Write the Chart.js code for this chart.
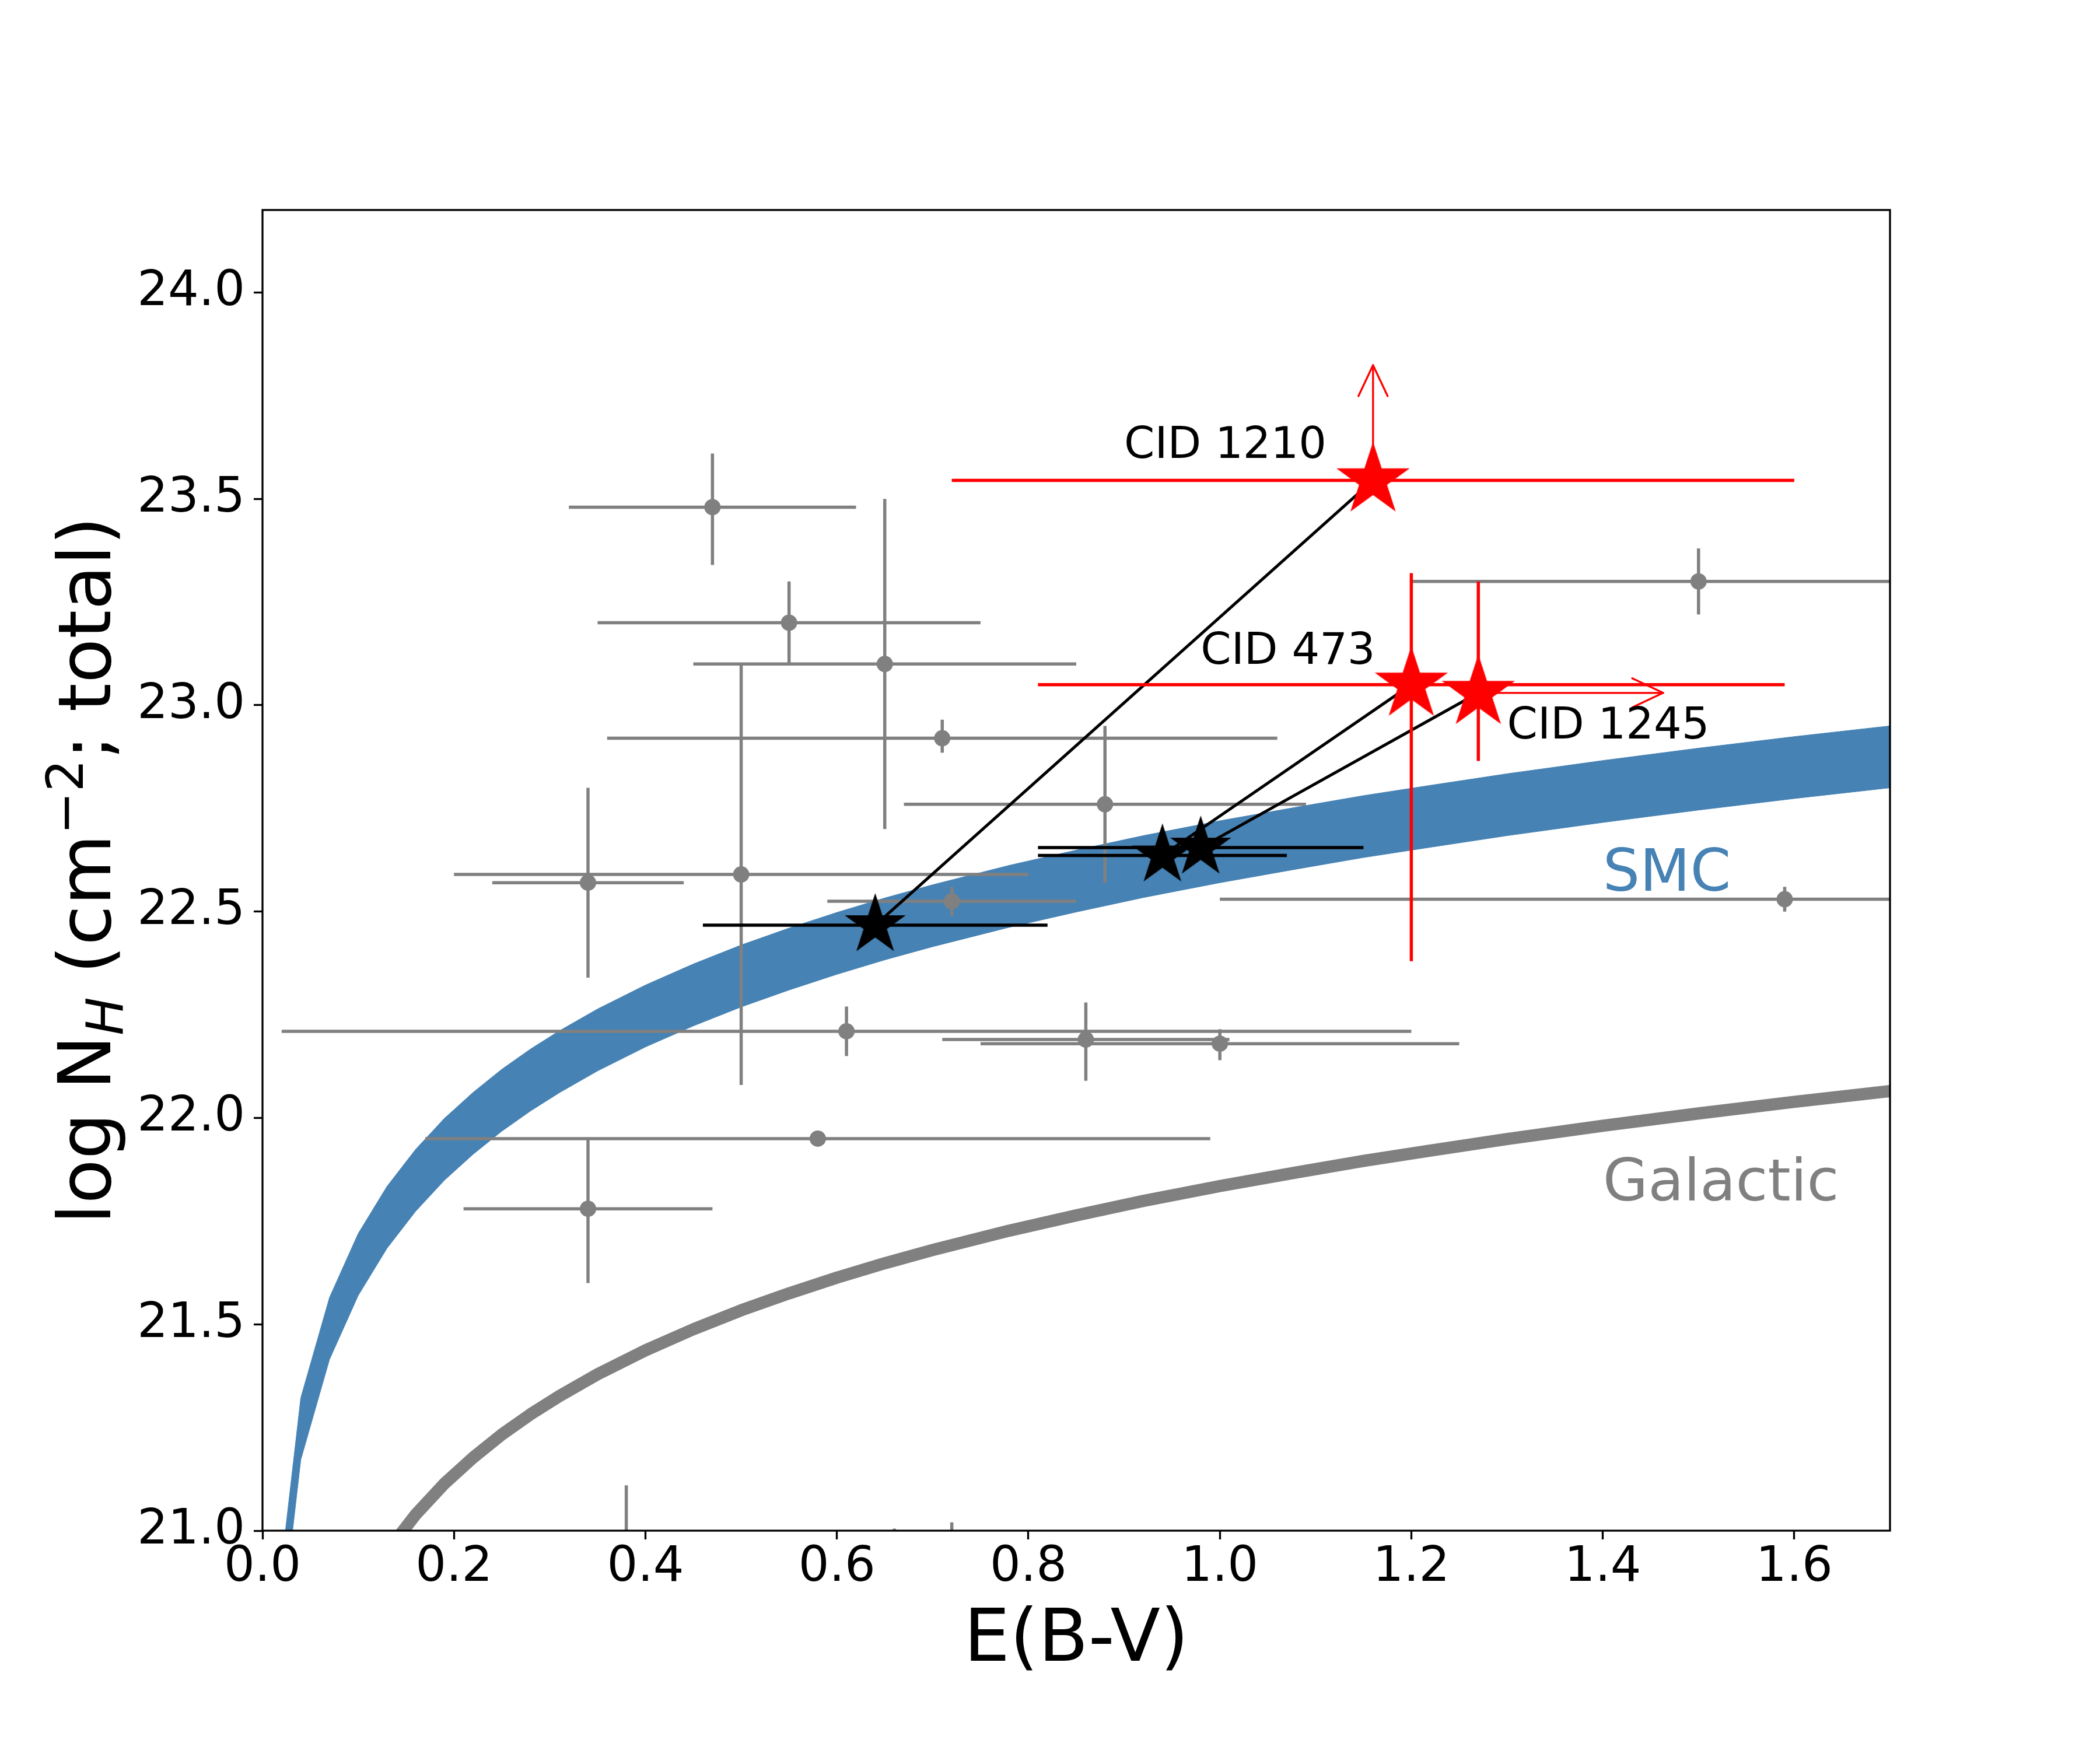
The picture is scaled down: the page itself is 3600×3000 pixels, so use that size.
<!DOCTYPE html>
<html>
<head>
<meta charset="utf-8">
<script src="https://cdn.jsdelivr.net/npm/chart.js@4/dist/chart.umd.min.js"></script>
<style>
html,body{margin:0;padding:0;background:#fff;}
canvas{display:block;}
</style>
</head>
<body>
<canvas id="c" width="3600" height="3000" style="width:3600px;height:3000px"></canvas>
<script>
// ---------------- data ----------------
const xRange = [0.0, 1.7];
const yRange = [21.0, 24.2];
const xStep = 0.2;
const yStep = 0.5;

// relation curves sampled in E(B-V)
const eGrid    = [0.01, 0.04, 0.07, 0.10, 0.13, 0.16, 0.19, 0.22, 0.25, 0.28, 0.31, 0.35, 0.40, 0.45, 0.50, 0.55, 0.60, 0.65, 0.70, 0.78, 0.85, 0.92, 1.00, 1.08, 1.15, 1.22, 1.30, 1.40, 1.50, 1.60, 1.70];
const smcUpper = [20.720, 21.322, 21.565, 21.720, 21.834, 21.924, 21.999, 22.062, 22.118, 22.167, 22.211, 22.264, 22.322, 22.373, 22.419, 22.460, 22.498, 22.533, 22.565, 22.612, 22.649, 22.684, 22.720, 22.753, 22.781, 22.806, 22.834, 22.866, 22.896, 22.924, 22.950];
const smcLower = [20.570, 21.172, 21.415, 21.570, 21.684, 21.774, 21.849, 21.912, 21.968, 22.017, 22.061, 22.114, 22.172, 22.223, 22.269, 22.310, 22.348, 22.383, 22.415, 22.462, 22.499, 22.534, 22.570, 22.603, 22.631, 22.656, 22.684, 22.716, 22.746, 22.774, 22.800];
const galactic = [19.835, 20.437, 20.680, 20.835, 20.949, 21.039, 21.114, 21.177, 21.233, 21.282, 21.326, 21.379, 21.437, 21.488, 21.534, 21.575, 21.613, 21.648, 21.680, 21.727, 21.764, 21.799, 21.835, 21.868, 21.896, 21.921, 21.949, 21.981, 22.011, 22.039, 22.065];

// grey comparison sample
const greyX   = [0.47, 0.55, 0.65, 0.71, 0.88, 0.34, 0.50, 0.72, 0.61, 0.86, 1.00, 0.58, 0.34, 1.50, 1.59, 0.38, 0.66, 0.72];
const greyY   = [23.48, 23.20, 23.10, 22.92, 22.76, 22.57, 22.59, 22.525, 22.21, 22.19, 22.18, 21.95, 21.78, 23.30, 22.53, 20.80, 20.80, 20.80];
const greyXLo = [0.32, 0.35, 0.45, 0.36, 0.67, 0.24, 0.20, 0.59, 0.02, 0.71, 0.75, 0.17, 0.21, 1.20, 1.00, 0.38, 0.66, 0.72];
const greyXHi = [0.62, 0.75, 0.85, 1.06, 1.09, 0.44, 0.80, 0.85, 1.20, 1.01, 1.25, 0.99, 0.47, 1.80, 2.18, 0.38, 0.66, 0.72];
const greyYLo = [23.34, 23.10, 22.70, 22.885, 22.57, 22.34, 22.08, 22.49, 22.15, 22.09, 22.14, 21.95, 21.60, 23.22, 22.50, 20.50, 20.60, 20.60];
const greyYHi = [23.61, 23.30, 23.50, 22.965, 22.95, 22.80, 23.10, 22.56, 22.27, 22.28, 22.215, 21.95, 21.95, 23.38, 22.56, 21.11, 21.005, 21.02];

// black stars
const blackX   = [0.64, 0.94, 0.98];
const blackY   = [22.467, 22.636, 22.655];
const blackXLo = [0.46, 0.81, 0.81];
const blackXHi = [0.82, 1.07, 1.15];

// red stars (CID 1210, CID 473, CID 1245)
const redX   = [1.16, 1.20, 1.27];
const redY   = [23.545, 23.05, 23.03];
const redXLo = [0.72, 0.81, null];
const redXHi = [1.60, 1.59, null];
const redYLo = [null, 22.38, 22.865];
const redYHi = [null, 23.32, 23.30];
const redLimitX = [1.16, null, 1.463];   // arrow tips (limits)
const redLimitY = [23.824, null, 23.03];

// links black -> red
const linkFrom = [0, 1, 2];
const linkTo   = [0, 1, 2];

// text labels
const cidLabels = ['CID 1210', 'CID 473', 'CID 1245'];
const cidLabelX = [0.90, 0.98, 1.30];
const cidLabelY = [23.60, 23.10, 22.92];
const curveLabels = ['SMC', 'Galactic'];
const curveLabelX = [1.40, 1.40];
const curveLabelY = [22.55, 21.80];

// ---------------- styles ----------------
const STEEL = '#4682b4';
const GREY = '#808080';
const RED = '#ff0000';
const FONT = '"DejaVu Sans"';
const curveLabelColors = [STEEL, GREY];

function starImage(R, color) {
  const s = 2 * Math.ceil(R + 3);
  const c = document.createElement('canvas');
  c.width = s; c.height = s;
  const g = c.getContext('2d');
  g.translate(s / 2, s / 2);
  g.beginPath();
  for (let i = 0; i < 10; i++) {
    const r = (i % 2 === 0) ? R : R * 0.381966;
    const a = -Math.PI / 2 + i * Math.PI / 5;
    if (i === 0) g.moveTo(r * Math.cos(a), r * Math.sin(a));
    else g.lineTo(r * Math.cos(a), r * Math.sin(a));
  }
  g.closePath();
  g.fillStyle = color;
  g.fill();
  return c;
}

const pts = (xs, ys) => xs.map((v, i) => ({x: v, y: ys[i]}));

// ---------------- plugins ----------------
const errorBarPlugin = {
  id: 'errorBars',
  beforeDatasetDraw(chart, args) {
    const ds = chart.data.datasets[args.index];
    const eb = ds.errorBars;
    if (!eb) return;
    const {ctx, chartArea: a, scales: {x, y}} = chart;
    ctx.save();
    ctx.beginPath();
    ctx.rect(a.left, a.top, a.right - a.left, a.bottom - a.top);
    ctx.clip();
    ctx.strokeStyle = eb.color;
    ctx.lineWidth = eb.width;
    ctx.lineCap = 'butt';
    ds.data.forEach((p, i) => {
      const py = y.getPixelForValue(p.y);
      const px = x.getPixelForValue(p.x);
      if (eb.xLo && eb.xLo[i] != null) {
        ctx.beginPath();
        ctx.moveTo(x.getPixelForValue(eb.xLo[i]), py);
        ctx.lineTo(x.getPixelForValue(eb.xHi[i]), py);
        ctx.stroke();
      }
      if (eb.yLo && eb.yLo[i] != null) {
        ctx.beginPath();
        ctx.moveTo(px, y.getPixelForValue(eb.yLo[i]));
        ctx.lineTo(px, y.getPixelForValue(eb.yHi[i]));
        ctx.stroke();
      }
      if (eb.tipX && eb.tipX[i] != null) {
        const tx = x.getPixelForValue(eb.tipX[i]);
        const ty = y.getPixelForValue(eb.tipY[i]);
        const dx = tx - px, dy = ty - py;
        const L = Math.hypot(dx, dy);
        const ux = dx / L, uy = dy / L;
        const nx = -uy, ny = ux;
        ctx.lineWidth = eb.arrowWidth;
        ctx.lineCap = 'round';
        ctx.lineJoin = 'round';
        ctx.beginPath();
        ctx.moveTo(px, py);
        ctx.lineTo(tx, ty);
        ctx.stroke();
        ctx.beginPath();
        ctx.moveTo(tx - 53 * ux + 25 * nx, ty - 53 * uy + 25 * ny);
        ctx.lineTo(tx, ty);
        ctx.lineTo(tx - 53 * ux - 25 * nx, ty - 53 * uy - 25 * ny);
        ctx.stroke();
        ctx.lineWidth = eb.width;
        ctx.lineCap = 'butt';
      }
    });
    ctx.restore();
  }
};

const textPlugin = {
  id: 'texts',
  afterDatasetsDraw(chart) {
    const {ctx, scales: {x, y}} = chart;
    ctx.save();
    ctx.textBaseline = 'alphabetic';
    ctx.textAlign = 'left';
    ctx.fillStyle = '#000';
    ctx.font = '75px ' + FONT;
    cidLabels.forEach((t, i) => ctx.fillText(t, x.getPixelForValue(cidLabelX[i]), y.getPixelForValue(cidLabelY[i])));
    ctx.font = '100px ' + FONT;
    curveLabels.forEach((t, i) => {
      ctx.fillStyle = curveLabelColors[i];
      ctx.fillText(t, x.getPixelForValue(curveLabelX[i]), y.getPixelForValue(curveLabelY[i]));
    });
    ctx.restore();
  },
  afterDraw(chart) {
    const {ctx, chartArea: a} = chart;
    ctx.save();
    // frame
    ctx.strokeStyle = '#000';
    ctx.lineWidth = 3.3;
    ctx.strokeRect(a.left, a.top, a.right - a.left, a.bottom - a.top);
    // x title
    ctx.fillStyle = '#000';
    ctx.font = '125px ' + FONT;
    ctx.textAlign = 'center';
    ctx.textBaseline = 'alphabetic';
    ctx.fillText('E(B-V)', (a.left + a.right) / 2, a.bottom + 223);
    // y title with sub/superscripts
    const parts = [
      {t: 'log N', f: '125px ' + FONT, dy: 0},
      {t: 'H', f: 'italic 87px ' + FONT, dy: 21},
      {t: ' (cm', f: '125px ' + FONT, dy: 0},
      {t: '\u22122', f: '87px ' + FONT, dy: -47},
      {t: '; total)', f: '125px ' + FONT, dy: 0}
    ];
    ctx.textAlign = 'left';
    let total = 0;
    parts.forEach(p => { ctx.font = p.f; p.w = ctx.measureText(p.t).width; total += p.w; });
    ctx.translate(a.left - 261, (a.top + a.bottom) / 2);
    ctx.rotate(-Math.PI / 2);
    let cx = -total / 2;
    parts.forEach(p => { ctx.font = p.f; ctx.fillText(p.t, cx, p.dy); cx += p.w; });
    ctx.restore();
  }
};

// ---------------- chart ----------------
Chart.defaults.font.family = FONT;

const datasets = [
  { // SMC band upper edge (filled to lower edge)
    type: 'line', data: pts(eGrid, smcUpper), borderColor: STEEL, borderWidth: 1,
    backgroundColor: STEEL, fill: '+1', pointRadius: 0, tension: 0, order: 10, clip: 0
  },
  { // SMC band lower edge
    type: 'line', data: pts(eGrid, smcLower), borderColor: STEEL, borderWidth: 1,
    fill: false, pointRadius: 0, tension: 0, order: 9, clip: 0
  },
  { // Galactic relation
    type: 'line', data: pts(eGrid, galactic), borderColor: GREY, borderWidth: 21,
    borderJoinStyle: 'round', fill: false, pointRadius: 0, tension: 0, order: 8, clip: 0
  },
  { // grey sample
    type: 'scatter', data: pts(greyX, greyY), pointStyle: 'circle', pointRadius: 14,
    backgroundColor: GREY, borderWidth: 0, order: 7, clip: 0,
    errorBars: {color: GREY, width: 5.5, xLo: greyXLo, xHi: greyXHi, yLo: greyYLo, yHi: greyYHi}
  }
];
linkFrom.forEach((b, k) => {
  const r = linkTo[k];
  datasets.push({
    type: 'line', data: [{x: blackX[b], y: blackY[b]}, {x: redX[r], y: redY[r]}],
    borderColor: '#000', borderWidth: 5, pointRadius: 0, fill: false, order: 6, clip: 0
  });
});
datasets.push({
  type: 'scatter', data: pts(blackX, blackY), pointStyle: starImage(55, '#000'), pointRadius: 10,
  order: 5, clip: 0,
  errorBars: {color: '#000', width: 5.5, xLo: blackXLo, xHi: blackXHi}
});
datasets.push({
  type: 'scatter', data: pts(redX, redY), pointStyle: starImage(66, RED), pointRadius: 10,
  order: 4, clip: 0,
  errorBars: {color: RED, width: 5.5, arrowWidth: 3.3, xLo: redXLo, xHi: redXHi, yLo: redYLo, yHi: redYHi, tipX: redLimitX, tipY: redLimitY}
});

new Chart(document.getElementById('c'), {
  type: 'scatter',
  data: {datasets},
  options: {
    responsive: false,
    maintainAspectRatio: false,
    devicePixelRatio: 1,
    animation: false,
    events: [],
    layout: {padding: {left: 0, top: 360, right: 360, bottom: 0}},
    plugins: {legend: {display: false}, tooltip: {enabled: false}, title: {display: false}},
    scales: {
      x: {
        type: 'linear', position: 'bottom', min: xRange[0], max: xRange[1],
        ticks: {stepSize: xStep, includeBounds: false, autoSkip: false, maxRotation: 0,
                color: '#000', font: {size: 83}, padding: 0, callback: v => v.toFixed(1)},
        grid: {display: true, drawOnChartArea: false, drawTicks: true, tickLength: 15, tickWidth: 3.3, tickColor: '#000'},
        border: {display: false},
        afterFit: s => { s.height = 376; }
      },
      y: {
        type: 'linear', position: 'left', min: yRange[0], max: yRange[1],
        ticks: {stepSize: yStep, includeBounds: false, autoSkip: false,
                color: '#000', font: {size: 83}, padding: 15, callback: v => v.toFixed(1)},
        grid: {display: true, drawOnChartArea: false, drawTicks: true, tickLength: 15, tickWidth: 3.3, tickColor: '#000'},
        border: {display: false},
        afterFit: s => { s.width = 450; }
      }
    }
  },
  plugins: [errorBarPlugin, textPlugin]
});
</script>
</body>
</html>
